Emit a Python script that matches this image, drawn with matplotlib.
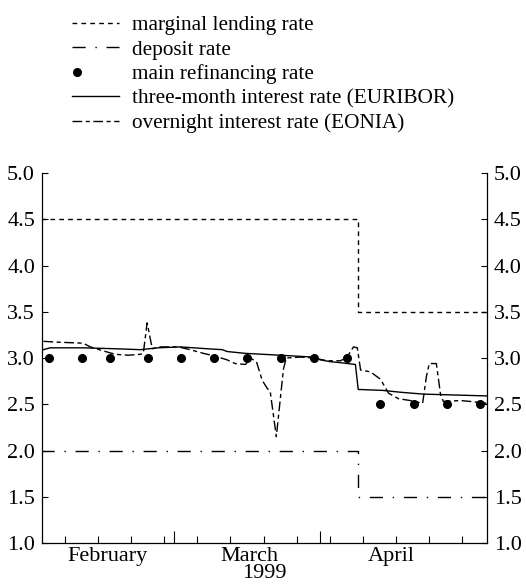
import numpy as np
import matplotlib
matplotlib.use("Agg")
import matplotlib.pyplot as plt
from matplotlib.legend_handler import HandlerLine2D

plt.rcParams['font.family'] = ['Liberation Serif', 'DejaVu Serif']

# x values are days counted from 1 February 1999
policy_days = [0.0, 67.0, 94.2]
marginal_rate = [4.5, 3.5, 3.5]
deposit_rate = [2.0, 1.5, 1.5]

refi_days = [1.6, 8.6, 14.6, 22.6, 29.5, 36.6, 43.6, 50.7, 57.6, 64.6, 71.7, 78.7, 85.8, 92.7]
refi_rate = [3.0, 3.0, 3.0, 3.0, 3.0, 3.0, 3.0, 3.0, 3.0, 3.0, 2.5, 2.5, 2.5, 2.5]

euribor_days = [0.5, 1.9, 8.9, 15.7, 21.0, 24.6, 29.4, 35.1, 38.3, 39.3, 43.2, 50.5,
                57.5, 59.0, 61.1, 63.2, 66.4, 67.0, 72.1, 75.9, 80.6, 94.1]
euribor_rate = [3.09, 3.11, 3.11, 3.10, 3.09, 3.11, 3.12, 3.10, 3.09, 3.07, 3.05, 3.03,
                3.01, 2.98, 2.96, 2.95, 2.93, 2.66, 2.65, 2.63, 2.61, 2.59]

eonia_days = [0.5, 4.1, 8.9, 10.4, 13.6, 15.7, 18.4, 21.0, 21.6, 22.4, 23.5, 25.1,
              29.0, 31.5, 34.3, 36.8, 39.3, 41.0, 43.2, 44.2, 45.5, 46.7, 47.8, 48.4,
              49.7, 51.2, 51.8, 54.8, 57.5, 60.5, 63.2, 64.5, 66.0, 66.8, 67.5, 69.6,
              71.7, 73.4, 75.5, 78.0, 80.6, 81.4, 82.0, 83.5, 84.4, 85.0, 88.6, 90.7, 94.1]
eonia_rate = [3.18, 3.17, 3.16, 3.12, 3.07, 3.04, 3.03, 3.04, 3.05, 3.38, 3.10, 3.12,
              3.12, 3.09, 3.05, 3.02, 2.98, 2.94, 2.93, 3.00, 2.96, 2.76, 2.67, 2.64,
              2.15, 2.88, 3.00, 3.01, 3.00, 2.97, 2.97, 3.00, 3.12, 3.11, 2.87, 2.85,
              2.77, 2.62, 2.56, 2.54, 2.51, 2.80, 2.94, 2.94, 2.60, 2.53, 2.54, 2.53, 2.51]

month_starts = [28, 59]
week_ticks = [5, 12, 19, 26, 33, 40, 47, 54, 61, 68, 75, 82, 89]
month_mids = [14, 44, 74]
month_names = ["February", "March", "April"]
y_ticks = [1.0, 1.5, 2.0, 2.5, 3.0, 3.5, 4.0, 4.5, 5.0]


class LeftDotHandler(HandlerLine2D):
    # put the single legend marker at the left end of the handle
    def get_xdata(self, legend, xdescent, ydescent, width, height, fontsize):
        x = np.array([-xdescent + 0.1 * width] * 2)
        return x, x


fig = plt.figure(figsize=(5.26, 5.85), dpi=100)
ax = fig.add_axes([42 / 526, 1 - 543 / 585, 445 / 526, 370 / 585])

lw = 1.0
l_marg, = ax.plot(policy_days, marginal_rate, drawstyle='steps-post', color='black',
                  lw=lw, dashes=(3.4, 3.0), label="marginal lending rate")
l_dep, = ax.plot(policy_days, deposit_rate, drawstyle='steps-post', color='black',
                 lw=lw, dashes=(9.5, 7, 1, 7), label="deposit rate")
l_refi, = ax.plot(refi_days, refi_rate, 'o', color='black', ms=5.5,
                  label="main refinancing rate")
l_eur, = ax.plot(euribor_days, euribor_rate, color='black', lw=lw,
                 label="three-month interest rate (EURIBOR)")
l_eon, = ax.plot(eonia_days, eonia_rate, color='black', lw=lw, dashes=(7, 2.5, 3, 2.5),
                 label="overnight interest rate (EONIA)")

ax.set_xlim(0.2, 94.2)
ax.set_ylim(1.0, 5.0)
ax.spines['top'].set_visible(False)
for s in ['left', 'right', 'bottom']:
    ax.spines[s].set_linewidth(0.9)

ax.set_yticks(y_ticks)
ax.set_yticklabels([f"{v:.1f}" for v in y_ticks])
ax.tick_params(axis='y', direction='in', length=4, width=0.8, right=True,
               labelright=True, labelsize=16, pad=5)
ax.set_xticks(month_starts)
ax.set_xticks(week_ticks, minor=True)
ax.tick_params(axis='x', which='major', direction='in', length=9, width=0.8, labelbottom=False)
ax.tick_params(axis='x', which='minor', direction='in', length=5, width=0.8)

sec = ax.secondary_xaxis('bottom')
sec.set_xticks(month_mids)
sec.set_xticklabels(month_names)
sec.tick_params(axis='x', length=0, labelsize=16, pad=3)
sec.spines['bottom'].set_visible(False)
sec.set_xlabel("1999", fontsize=16, labelpad=-1.5)

fig.legend(handles=[l_marg, l_dep, l_refi, l_eur, l_eon],
           loc='upper left', bbox_to_anchor=(53 / 526, 1 + 4 / 585),
           frameon=False, fontsize=15.3, handlelength=2.2, handletextpad=0.6,
           labelspacing=0.22, borderpad=0.4,
           handler_map={l_refi: LeftDotHandler(numpoints=1)})

fig.savefig("out.png", dpi=100)
